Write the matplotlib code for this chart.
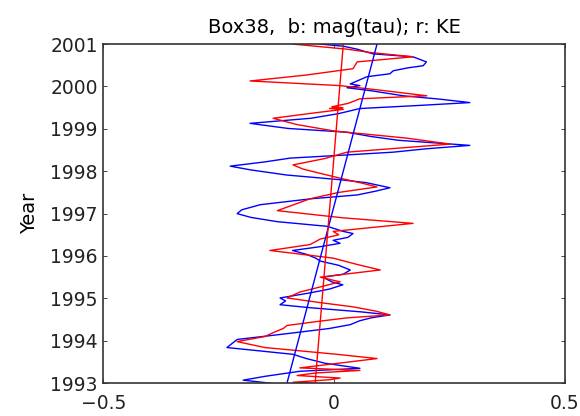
import matplotlib
matplotlib.use("Agg")
import matplotlib.pyplot as plt
import numpy as np

# ---- data: value (x) against time in years (y) ----
blue_year = [1993.00, 1993.07, 1993.16, 1993.28, 1993.35, 1993.47, 1993.58, 1993.68,
             1993.84, 1994.03, 1994.17, 1994.29, 1994.38, 1994.47, 1994.54, 1994.61,
             1994.68, 1994.78, 1994.85, 1994.94, 1995.01, 1995.13, 1995.22, 1995.32,
             1995.39, 1995.50, 1995.57, 1995.67, 1995.78, 1995.88, 1995.95, 1996.04,
             1996.13, 1996.22, 1996.30, 1996.37, 1996.44, 1996.53, 1996.58, 1996.70,
             1996.81, 1996.91, 1997.00, 1997.09, 1997.21, 1997.35, 1997.44, 1997.53,
             1997.61, 1997.73, 1997.80, 1997.91, 1998.03, 1998.12, 1998.22, 1998.31,
             1998.38, 1998.45, 1998.53, 1998.61, 1998.73, 1998.82, 1998.92, 1999.01,
             1999.13, 1999.25, 1999.36, 1999.48, 1999.55, 1999.62, 1999.70, 1999.78,
             1999.90, 1999.97, 2000.02, 2000.06, 2000.13, 2000.23, 2000.30, 2000.37,
             2000.44, 2000.49, 2000.58, 2000.70, 2000.77, 2000.88, 2000.95, 2001.00]
blue_val = [-0.139, -0.197, -0.150, -0.074, 0.056, -0.020, -0.060, -0.089,
            -0.232, -0.210, -0.100, -0.010, 0.035, 0.055, 0.080, 0.121,
            0.060, -0.052, -0.117, -0.105, -0.117, -0.052, -0.010, 0.019,
            -0.005, -0.024, 0.020, 0.035, 0.010, -0.030, -0.040, -0.060,
            -0.090, -0.030, 0.013, -0.002, 0.030, 0.041, 0.020, -0.015,
            -0.123, -0.180, -0.210, -0.200, -0.160, -0.050, 0.050, 0.090,
            0.121, 0.070, 0.013, -0.102, -0.180, -0.225, -0.150, -0.095,
            0.020, 0.128, 0.200, 0.294, 0.140, 0.080, 0.028, -0.100,
            -0.182, -0.050, 0.010, 0.056, 0.180, 0.294, 0.230, 0.150,
            0.080, 0.028, 0.056, 0.035, 0.050, 0.071, 0.121, 0.128,
            0.160, 0.193, 0.200, 0.171, 0.084, 0.050, 0.020, -0.030]

red_year = [1993.00, 1993.02, 1993.08, 1993.12, 1993.18, 1993.24, 1993.30, 1993.36,
            1993.47, 1993.58, 1993.68, 1993.84, 1993.98, 1994.10, 1994.20, 1994.29,
            1994.36, 1994.45, 1994.54, 1994.61, 1994.70, 1994.80, 1994.90, 1995.01,
            1995.15, 1995.27, 1995.39, 1995.50, 1995.58, 1995.67, 1995.80, 1995.95,
            1996.13, 1996.27, 1996.40, 1996.50, 1996.58, 1996.77, 1996.90, 1997.07,
            1997.20, 1997.35, 1997.50, 1997.63, 1997.72, 1997.82, 1997.95, 1998.05,
            1998.15, 1998.30, 1998.45, 1998.64, 1998.78, 1998.95, 1999.10, 1999.25,
            1999.38, 1999.46, 1999.48, 1999.50, 1999.52, 1999.60, 1999.71, 1999.78,
            1999.90, 2000.02, 2000.13, 2000.27, 2000.42, 2000.58, 2000.70, 2000.80,
            2000.88, 2001.00]
red_val = [-0.045, -0.089, -0.010, 0.013, -0.080, -0.040, 0.056, -0.074,
           0.010, 0.093, 0.006, -0.150, -0.210, -0.150, -0.130, -0.110,
           -0.102, -0.040, 0.028, 0.121, 0.090, 0.041, -0.030, -0.102,
           -0.074, -0.030, 0.013, -0.030, 0.030, 0.100, 0.050, -0.002,
           -0.139, -0.052, -0.030, 0.010, -0.002, 0.171, 0.020, -0.123,
           -0.090, -0.052, 0.010, 0.093, 0.060, 0.019, -0.030, -0.067,
           -0.089, -0.020, 0.028, 0.251, 0.158, 0.000, -0.080, -0.132,
           -0.040, 0.020, -0.010, 0.019, -0.005, 0.030, 0.056, 0.201,
           0.110, 0.013, -0.182, -0.060, 0.041, 0.050, 0.171, 0.080,
           0.028, -0.089]

# fitted trend lines (end points at 1993 and 2001)
trend_year = [1993.0, 2001.0]
blue_trend = [-0.102, 0.093]
red_trend = [-0.041, 0.020]

title = "Box38,  b: mag(tau); r: KE"
xticks = [-0.5, 0, 0.5]
yticks = list(range(1993, 2002))

# ---- figure ----
plt.rcParams['font.family'] = 'DejaVu Sans'
fig = plt.figure(figsize=(5.8, 4.16), dpi=100, facecolor='white')
ax = fig.add_axes([0.178, 0.079, 0.796, 0.815])

ax.plot(blue_val, blue_year, color='#0000ff', linewidth=1.0)
ax.plot(red_val, red_year, color='#ff0000', linewidth=1.0)
ax.plot(blue_trend, trend_year, color='#0000ff', linewidth=1.0)
ax.plot(red_trend, trend_year, color='#ff0000', linewidth=1.0)

ax.set_xlim(-0.5, 0.5)
ax.set_ylim(1993, 2001)
ax.set_xticks(xticks)
ax.set_xticklabels(['\u22120.5', '0', '0.5'])
ax.set_yticks(yticks)
ax.set_yticklabels([str(y) for y in yticks])
ax.tick_params(direction='in', length=3, width=0.6, labelsize=13.5,
               top=True, right=True, colors='#222222')
ax.tick_params(axis='x', pad=8)
ax.tick_params(axis='y', pad=4)
for s in ax.spines.values():
    s.set_linewidth(1.2)
    s.set_color('#333333')

ax.set_title(title, fontsize=14, pad=8)
ax.set_ylabel('Year', fontsize=14, labelpad=8)

fig.savefig('out.png', dpi=100)
